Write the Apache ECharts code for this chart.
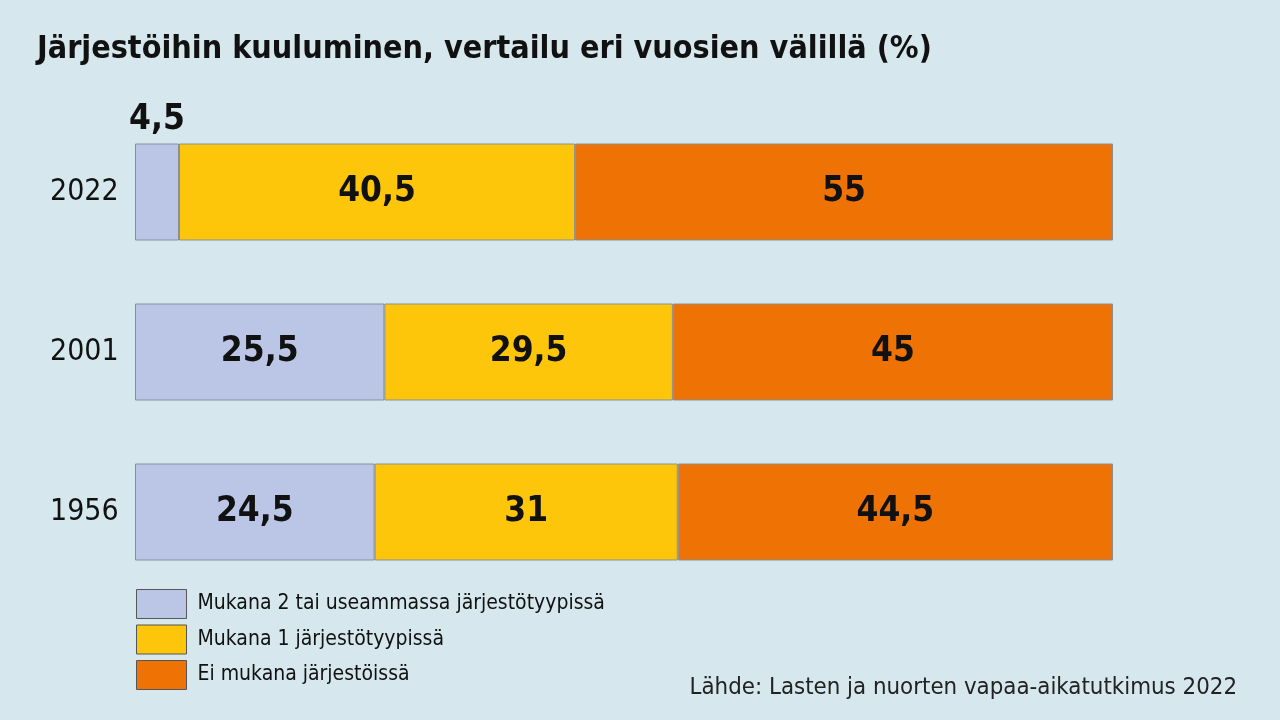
<!DOCTYPE html>
<html><head><meta charset="utf-8">
<script src="https://cdn.jsdelivr.net/npm/echarts@6/dist/echarts.min.js"></script>
<style>html,body{margin:0;padding:0;background:#d6e8ed;}#c{width:1280px;height:720px;}</style>
</head><body><div id="c"></div>
<script>
const years = ['1956', '2001', '2022'];
const seriesNames = ['Mukana 2 tai useammassa järjestötyypissä', 'Mukana 1 järjestötyypissä', 'Ei mukana järjestöissä'];
const multi = [24.5, 25.5, 4.5];
const one = [31, 29.5, 40.5];
const none = [44.5, 45, 55];
const colors = ['#bbc5e6', '#fdc60b', '#ef7304'];
const titleText = 'Järjestöihin kuuluminen, vertailu eri vuosien välillä (%)';
const sourceText = 'Lähde: Lasten ja nuorten vapaa-aikatutkimus 2022';

const condensed = '"Liberation Sans Narrow", "DejaVu Sans Condensed", "Roboto Condensed", sans-serif';
const labelStyle = {
  show: true, position: 'inside', color: '#111', fontSize: 35, fontWeight: 'bold', fontFamily: condensed,
  formatter: p => String(p.value).replace('.', ',')
};
function mk(name, data, i) {
  return {
    name, type: 'bar', stack: 'a', data: data.map((v, j) => {
      const d = { value: v };
      if (v < 8) d.label = { position: 'top', distance: 6 };
      return d;
    }),
    barWidth: 97,
    itemStyle: { color: colors[i], borderColor: '#8a8f94', borderWidth: 1 },
    label: labelStyle
  };
}
const chart = echarts.init(document.getElementById('c'));
chart.setOption({
  backgroundColor: '#d6e8ed',
  animation: false,
  title: { text: titleText, left: 32, top: 29, textStyle: { fontSize: 32, fontWeight: 'bold', color: '#111', fontFamily: '"DejaVu Sans Condensed", sans-serif' } },
  grid: { left: 135, right: 167, top: 112, bottom: 128, containLabel: false },
  xAxis: { type: 'value', min: 0, max: 100, show: false },
  yAxis: {
    type: 'category', data: years,
    axisLine: { show: false }, axisTick: { show: false },
    axisLabel: { align: 'left', margin: 85, fontSize: 30, color: '#111', fontFamily: condensed }
  },
  legend: {
    orient: 'vertical', left: 131, top: 584, itemWidth: 50, itemHeight: 29, itemGap: 5.5,
    icon: 'rect', selectedMode: false,
    textStyle: { fontSize: 21, color: '#111', fontFamily: condensed, padding: [3, 0, 0, 6] },
    itemStyle: { borderColor: '#555', borderWidth: 1 },
    data: seriesNames
  },
  graphic: [{
    type: 'text', right: 43, top: 676,
    style: { text: sourceText, fontSize: 23.8, fill: '#222', fontFamily: '"DejaVu Sans Condensed", sans-serif' }
  }],
  series: [mk(seriesNames[0], multi, 0), mk(seriesNames[1], one, 1), mk(seriesNames[2], none, 2)]
});
</script></body></html>
